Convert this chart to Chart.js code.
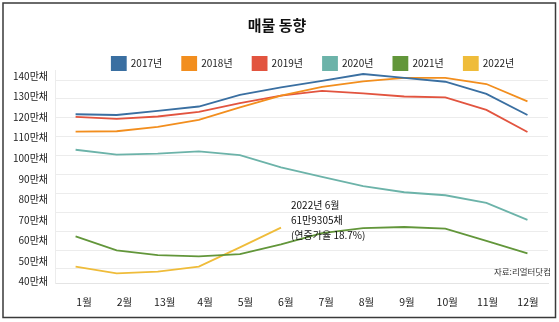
<!DOCTYPE html>
<html>
<head>
<meta charset="utf-8">
<script src="https://cdn.jsdelivr.net/npm/chart.js@4"></script>
<style>
  html, body { margin: 0; padding: 0; background: #fff; }
  #wrap { width: 559px; height: 322px; position: relative; }
</style>
</head>
<body>
<div id="wrap"><canvas id="myChart" width="559" height="322"></canvas></div>
<script>
// 월 (원본 그림의 "13월" 그대로)
const months = ["1월", "2월", "13월", "4월", "5월", "6월", "7월", "8월", "9월", "10월", "11월", "12월"];
const years = ["2017년", "2018년", "2019년", "2020년", "2021년", "2022년"];
const colors = ["#3a6fa1", "#f28e1e", "#e2543f", "#6cb3a9", "#62963a", "#efbc3a"];

// 단위: 만채
const y2017 = [121.9, 121.5, 123.7, 126.0, 132.2, 136.1, 139.6, 143.2, 141.1, 139.1, 132.7, 121.5];
const y2018 = [112.7, 112.9, 115.2, 118.9, 125.5, 131.7, 136.4, 139.3, 141.1, 141.1, 137.9, 128.7];
const y2019 = [120.5, 119.4, 120.7, 123.2, 127.8, 131.7, 134.3, 132.9, 131.3, 130.8, 124.2, 112.5];
const y2020 = [103.1, 100.5, 101.0, 102.2, 100.3, 93.8, 88.8, 83.8, 80.6, 79.0, 75.0, 66.0];
const y2021 = [57.2, 49.8, 47.3, 46.6, 47.8, 53.0, 59.0, 61.6, 62.2, 61.3, 54.9, 48.2];
const y2022 = [41.2, 37.7, 38.6, 41.2, 51.4, 61.9];

const yTicks = [40, 50, 60, 70, 80, 90, 100, 110, 120, 130, 140];
const noteLines = ["2022년 6월", "61만9305채", "(연증가율 18.7%)"];
const source = "자료:리얼터닷컴";

const FONT = "'Noto Sans CJK KR', 'Noto Sans', sans-serif";
const series = [y2017, y2018, y2019, y2020, y2021, y2022];

const extras = {
    id: "extras",
    beforeLayout(chart) {
        // 범례 아래 여백 줄이기
        const lg = chart.legend;
        if (lg && !lg._patched) {
            const fit = lg.fit;
            lg.fit = function () {
                fit.call(this);
                this.height -= 15;
            };
            lg._patched = true;
        }
    },
    afterLayout(chart) {
        // 범례를 오른쪽 위로 조금 이동
        const lg = chart.legend;
        lg.left += 36;
        lg.right += 36;
        lg.top -= 5;
        lg.bottom += 12;
    },
    afterDatasetsDraw(chart) {
        const ctx = chart.ctx;
        const pt = chart.getDatasetMeta(5).data[5];
        ctx.save();
        ctx.fillStyle = "#111";
        ctx.font = "10px " + FONT;
        ctx.textBaseline = "middle";
        noteLines.forEach((t, i) => {
            ctx.fillText(t, pt.x + 10, pt.y - 22 + i * 15);
        });
        ctx.font = "8.5px " + FONT;
        ctx.textAlign = "right";
        ctx.fillStyle = "#333";
        ctx.fillText(source, chart.chartArea.right + 3, chart.scales.y.getPixelForValue(38.5));
        ctx.restore();
    },
    afterDraw(chart) {
        // 바깥 테두리
        const ctx = chart.ctx;
        ctx.save();
        ctx.strokeStyle = "#3a3a3a";
        ctx.lineWidth = 1.5;
        ctx.strokeRect(3, 3, 552.5, 314.5);
        ctx.restore();
    }
};

const chart = new Chart(document.getElementById("myChart"), {
    type: "line",
    data: {
        labels: months,
        datasets: years.map((name, i) => ({
            label: name,
            data: series[i],
            borderColor: colors[i],
            backgroundColor: colors[i],
            borderWidth: 1.8,
            pointRadius: 0,
            tension: 0,
            clip: false,
            xAxisID: "x",
            yAxisID: "y"
        }))
    },
    options: {
        responsive: false,
        animation: false,
        layout: { padding: { left: 6, right: 11, top: 0, bottom: 2 } },
        plugins: {
            title: {
                display: true,
                text: "매물 동향",
                color: "#111",
                font: { family: FONT, size: 15, weight: "bold" },
                padding: { top: 16, bottom: 8 }
            },
            legend: {
                labels: {
                    boxWidth: 14,
                    boxHeight: 13,
                    padding: 20,
                    color: "#222",
                    font: { family: FONT, size: 10 }
                }
            },
            tooltip: { enabled: false }
        },
        scales: {
            x: {
                type: "category",
                offset: true,
                ticks: { display: false },
                grid: { display: false, drawTicks: false },
                border: { display: true, color: "#e4e4e4" }
            },
            x2: {
                type: "linear",
                position: "bottom",
                weight: 1,
                min: 0.2815,
                max: 12.4966,
                afterBuildTicks: (s) => { s.ticks = months.map((m, i) => ({ value: i + 1 })); },
                ticks: {
                    autoSkip: false,
                    maxRotation: 0,
                    padding: 12,
                    color: "#222",
                    font: { family: FONT, size: 10.5 },
                    callback: (v) => months[v - 1]
                },
                grid: { display: false, drawTicks: false },
                border: { display: false }
            },
            y: {
                type: "linear",
                position: "left",
                min: 32.34,
                max: 145.32,
                afterBuildTicks: (s) => { s.ticks = yTicks.map(v => ({ value: v })); },
                ticks: { display: false },
                grid: { color: "#ececec", drawTicks: false },
                border: { display: true, color: "#ececec" }
            },
            y2: {
                type: "linear",
                position: "left",
                weight: 1,
                min: 39.17,
                max: 142.78,
                afterBuildTicks: (s) => { s.ticks = yTicks.map(v => ({ value: v })); },
                ticks: {
                    padding: 7,
                    color: "#222",
                    font: { family: FONT, size: 10 },
                    callback: (v) => v + "만채"
                },
                grid: { display: false, drawTicks: false },
                border: { display: false }
            }
        }
    },
    plugins: [extras]
});
</script>
</body>
</html>
